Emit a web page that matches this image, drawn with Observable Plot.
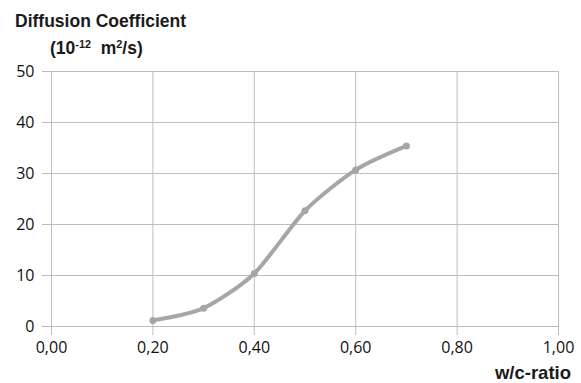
<!DOCTYPE html>
<html>
<head>
<meta charset="utf-8">
<script src="https://cdn.jsdelivr.net/npm/d3@7"></script>
<script src="https://cdn.jsdelivr.net/npm/@observablehq/plot@0.6"></script>
<style>
  body { margin: 0; background: #fff; }
  #wrap { position: relative; width: 581px; height: 383px; }
  .t { position: absolute; font-family: "Liberation Sans", Arial, sans-serif; font-weight: bold; color: #1a1a1a; white-space: nowrap; line-height: 1; }
  sup { font-size: 0.62em; vertical-align: 0.55em; line-height: 0; }
</style>
</head>
<body>
<div id="wrap">
  <div class="t" style="left:15px; top:13px; font-size:17.5px;">Diffusion Coefficient</div>
  <div class="t" style="left:50px; top:40px; font-size:17.5px;">(10<sup>-12</sup>&nbsp; m<sup>2</sup>/s)</div>
  <div class="t" style="right:10px; top:364px; font-size:18.5px;">w/c-ratio</div>
</div>
<script>
const wcRatio = [0.2, 0.3, 0.4, 0.5, 0.6, 0.7];
const diffusion = [1.2, 3.6, 10.4, 22.7, 30.7, 35.4];
const xTicks = [0, 0.2, 0.4, 0.6, 0.8, 1.0];
const yTicks = [0, 10, 20, 30, 40, 50];

const data = wcRatio.map((x, i) => ({x, y: diffusion[i]}));
const gridColor = "#bdbdbd";
const lineColor = "#a6a6a6";

const chart = Plot.plot({
  width: 581,
  height: 383,
  marginLeft: 51,
  marginRight: 23,
  marginTop: 71,
  marginBottom: 57,
  style: {fontFamily: "'Open Sans', sans-serif", fontSize: "16px", color: "#111", background: "transparent"},
  x: {domain: [0, 1]},
  y: {domain: [0, 50]},
  marks: [
    Plot.ruleX(xTicks, {stroke: gridColor, strokeWidth: 1, strokeOpacity: 1}),
    Plot.ruleY(yTicks, {stroke: gridColor, strokeWidth: 1, strokeOpacity: 1}),
    Plot.axisX(xTicks, {tickSize: 9, stroke: gridColor, strokeOpacity: 1, tickPadding: 6, tickFormat: d => d.toFixed(2).replace(".", ","), label: null, fontSize: 16}),
    Plot.axisY(yTicks, {tickSize: 9, stroke: gridColor, strokeOpacity: 1, tickPadding: 8, label: null, fontSize: 16}),
    Plot.line(data, {x: "x", y: "y", stroke: lineColor, strokeWidth: 4, curve: "cardinal", tension: 0.25}),
    Plot.dot(data, {x: "x", y: "y", fill: lineColor, r: 3.5})
  ]
});
document.getElementById("wrap").prepend(chart);
chart.style.position = "absolute";
chart.style.left = "0";
chart.style.top = "0";
</script>
</body>
</html>
